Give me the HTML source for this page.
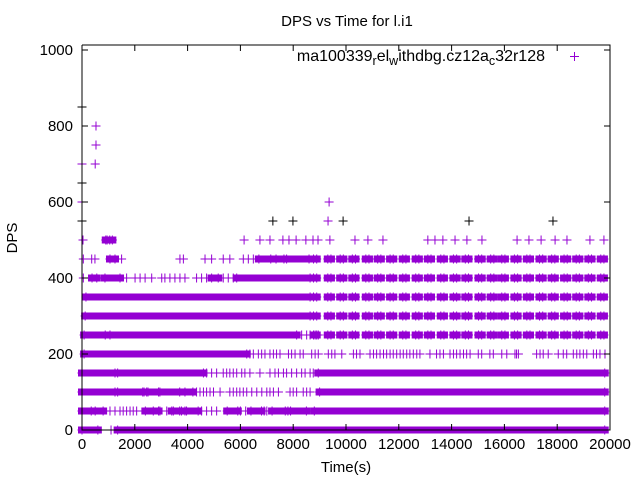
<!DOCTYPE html>
<html><head><meta charset="utf-8"><style>
body{margin:0;background:#fff}
svg{display:block;font-family:"Liberation Sans",sans-serif}
</style></head><body>
<svg id="chart" width="640" height="480">
<rect width="640" height="480" fill="#fff"/>
<text x="347" y="26" font-size="15" text-anchor="middle">DPS vs Time for l.i1</text>
<text x="17" y="238" font-size="15" text-anchor="middle" transform="rotate(-90 17 238)">DPS</text>
<text x="346" y="472" font-size="15" text-anchor="middle">Time(s)</text>
<g id="marks"></g>
<g id="axes"></g>
<g>
<text x="545" y="61" font-size="16" text-anchor="end">ma100339<tspan font-size="12.5" dy="4">r</tspan><tspan dy="-4">el</tspan><tspan font-size="12.5" dy="4">w</tspan><tspan dy="-4">ithdbg.cz12a</tspan><tspan font-size="12.5" dy="4">c</tspan><tspan dy="-4">32r128</tspan></text>
<path d="M570 56.5h9M574.5 52v9" stroke="#9400d3" stroke-width="1"/>
</g>
</svg>
<script>
const xTicks=[0,2000,4000,6000,8000,10000,12000,14000,16000,18000,20000];
const yTicks=[0,200,400,600,800,1000];
const levels=[0,50,100,150,200,250,300,350,400,450];
const bands0=[[0,600],[1350,19800]];
const bands50=[[0,350],[500,800],[2400,2900],[3400,3700],[3900,4400],[5500,5900],[6400,6800],[7200,7700],[7900,8500],[8800,19800]];
const bands100=[[0,1250],[1350,2300],[2500,2900],[2950,3700],[3900,4200],[9000,19800]];
const bands150=[[0,1250],[1350,4600],[8950,19800]];
const bands200=[[80,6240]];
const bands250=[[80,880],[1060,8130]];
const bands300=[[120,8640]];
const bands350=[[150,8640]];
const bands400=[[380,560],[870,1440],[4910,5160],[5860,8640]];
const bands450=[[1060,1250],[6700,7150],[7350,7650],[7750,8600]];
const periodicBlocks=[8830,9370,9840,10300,10810,11260,11730,12210,12700,13160,13650,14130,14580,15080,15540,15960,16440,16910,17390,17850,18320,18780,19240,19710];
const pts0=[1100];
const pts50=[1060,1250,1440,1560,1690,1820,1940,2070,2700,2950,3210,3460,3770,3960,4530,4720,4910,5100,6000,6200,6900,7000,7800];
const pts100=[2350,2450,4340,4470,4600,4720,4850,4980,5230,5600,5730,5860,5980,6110,6240,6430,6620,6810,7000,7120,7250,7440,7880,8000,8130,8380,8510,8640];
const pts150=[4720,4910,5100,5350,5480,5600,5730,5860,6050,6170,6360,6740,7120,7310,7440,7630,7750,7940,8130,8320,8450,8640,8760];
const pts200=[6360,6490,6680,6805,6930,7120,7250,7370,7500,7820,7940,8070,8260,8380,8700,8830,8950,9330,9460,9580,9840,10280,10400,10530,10910,11040,11160,11290,11420,11540,11670,11790,11920,12050,12170,12300,12420,12550,12680,12800,13180,13430,13560,13690,13940,14070,14190,14320,14450,14570,14700,15010,15140,15450,15580,15900,16090,16400,16460,16530,17220,17350,17470,17660,18040,18230,18360,18610,18740,18860,18990,19120,19370,19490,19620,19810];
const pts250=[8320,8510,8640,8830,8950];
const pts400=[50,1690,2010,2200,2390,2640,3020,3140,3330,3520,3710,3900,4340,4530,4720,5350,5540,5730];
const pts450=[50,367,490,1500,3710,3840,4660,4910,5350,5600,6110,6300,6490];
const pts500=[38,950,1050,6140,6740,7120,7610,7840,8110,8480,8750,8940,9390,10340,10830,11400,13100,13370,13670,14130,14580,15150,16480,16930,17390,17920,18370,19240,19770];
const pts550=[0,9320];
const pts600=[0,9360];
const pts650=[];
const pts700=[0,500];
const pts750=[530];
const pts800=[530];
const blackVals=[850,650,550,550,550,550,550,550];
const blackTimes=[0,0,0,7230,7990,9890,14660,17840];

const X0=82,X1=610,Y0=430,Y1=50;
const sx=t=>X0+t*(X1-X0)/20000;
const sy=v=>Y0-v*(Y0-Y1)/1000;
const NS="http://www.w3.org/2000/svg";
const g=document.getElementById('marks');
const C="#9400d3";
function cross(t,v,col){
  const p=document.createElementNS(NS,'path');
  const x=sx(t),y=sy(v);
  p.setAttribute('d',`M${x-4.5} ${y}h9M${x} ${y-4.5}v9`);
  p.setAttribute('stroke',col||C);p.setAttribute('stroke-width','1');p.setAttribute('fill','none');
  
  
  g.appendChild(p);
}
function band(t0,t1,v){
  const r=document.createElementNS(NS,'rect');
  const x0=sx(t0)-4,x1=sx(t1)+4,y=sy(v);
  r.setAttribute('x',x0);r.setAttribute('y',y-3.5);r.setAttribute('width',Math.max(1,x1-x0));r.setAttribute('height',7);
  r.setAttribute('fill',C);
  
  
  g.appendChild(r);
  cross(t0,v);cross(t1,v);
}
const bandSets=[bands0,bands50,bands100,bands150,bands200,bands250,bands300,bands350,bands400,bands450];
levels.forEach((v,i)=>bandSets[i].forEach(b=>band(b[0],b[1],v)));
[250,300,350,400,450].forEach(v=>periodicBlocks.forEach(t=>band(t-60,t+60,v)));
const ptSets=[[0,pts0],[50,pts50],[100,pts100],[150,pts150],[200,pts200],[250,pts250],[400,pts400],[450,pts450],[500,pts500],[550,pts550],[600,pts600],[650,pts650],[700,pts700],[750,pts750],[800,pts800]];
ptSets.forEach(([v,arr])=>arr.forEach(t=>cross(t,v)));
band(900,1150,500);
blackTimes.forEach((t,i)=>cross(t,blackVals[i],'#000'));

const a=document.getElementById('axes');
function line(d,name){
  const p=document.createElementNS(NS,'path');
  p.setAttribute('d',d);p.setAttribute('stroke','#000');p.setAttribute('stroke-width','1');p.setAttribute('fill','none');
  
  
  a.appendChild(p);
}
line(`M${X0} 45V${Y0}H${X1}V45H${X0}`,'plot-frame');
xTicks.forEach(t=>{
  const x=sx(t);
  line(`M${x} ${Y0}v-6M${x} 45v6`,'x-tick');
  const tx=document.createElementNS(NS,'text');
  tx.setAttribute('x',x);tx.setAttribute('y',449);tx.setAttribute('font-size','15');tx.setAttribute('text-anchor','middle');
  tx.textContent=t;
  
  
  a.appendChild(tx);
});
yTicks.forEach(v=>{
  const y=sy(v);
  line(`M${X0} ${y}h6M${X1} ${y}h-6`,'y-tick');
  const tx=document.createElementNS(NS,'text');
  tx.setAttribute('x',73);tx.setAttribute('y',y+5);tx.setAttribute('font-size','15');tx.setAttribute('text-anchor','end');
  tx.textContent=v;
  
  
  a.appendChild(tx);
});
</script>
</body></html>
